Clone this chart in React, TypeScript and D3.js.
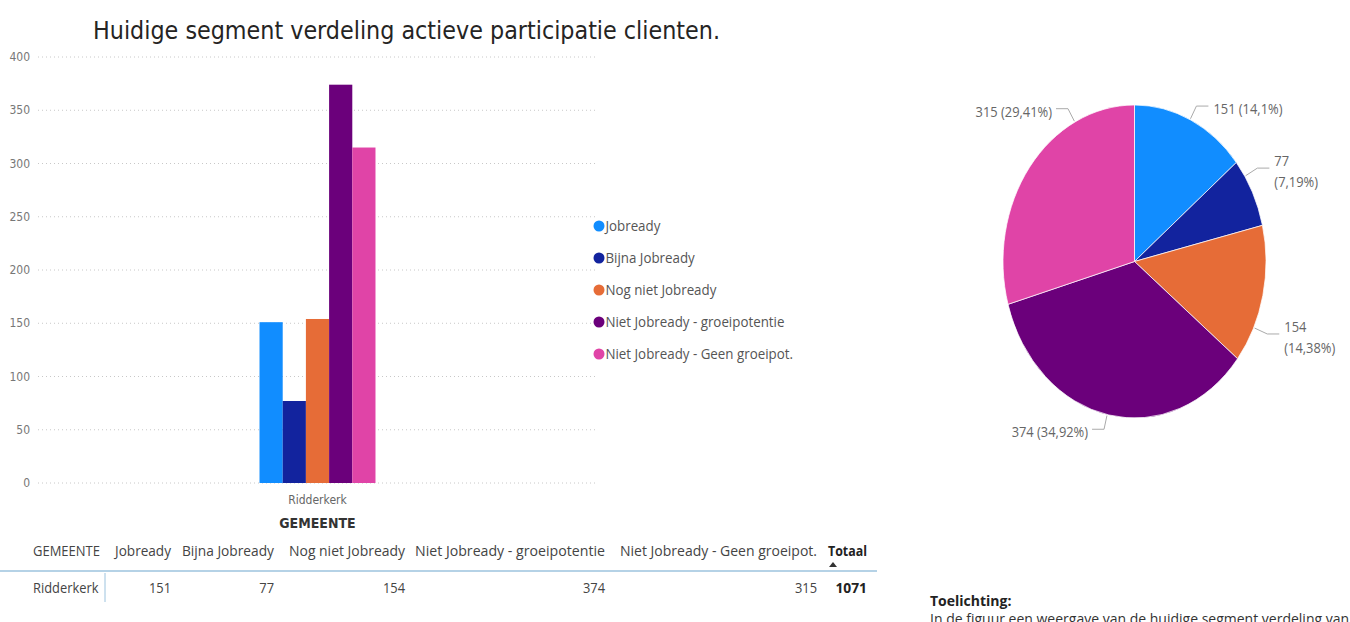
import React from "react";
import * as d3 from "d3";

const categories = ["Ridderkerk"];
const segments = [
  "Jobready",
  "Bijna Jobready",
  "Nog niet Jobready",
  "Niet Jobready - groeipotentie",
  "Niet Jobready - Geen groeipot.",
];
const values = [151, 77, 154, 374, 315];
const colors = ["#118DFF", "#12239E", "#E66C37", "#6B007B", "#E044A7"];
const yTicks = [0, 50, 100, 150, 200, 250, 300, 350, 400];
const title = "Huidige segment verdeling actieve participatie clienten.";
const axisTitle = "GEMEENTE";
const totalLabel = "Totaal";
const noteTitle = "Toelichting:";
const noteText = "In de figuur een weergave van de huidige segment verdeling van";

// layout constants
const W = 1350;
const H = 622;
const PLOT = { left: 38, right: 597, top: 57, bottom: 483 };
const PIE = { cx: 1134.5, cy: 261.5, rx: 131.5, ry: 156.5 };
const LABEL_ANGLE_DEG = [25, 57, 115, 192, 333];
const TABLE = { x: 33, headerY: 551, lineY: 571, rowY: 588, sepX: 105 };
// column [left, right] extents of header texts
const COLS: [number, number][] = [
  [33, 100],
  [115, 171],
  [182, 274],
  [289, 405],
  [415, 605],
  [620, 817],
  [828, 867],
];

const SANS = "'Open Sans', 'Noto Sans', sans-serif";
const DIN = "'DejaVu Sans Condensed', 'Roboto', sans-serif";

function fmtPct(v: number, total: number) {
  const p = parseFloat(((v / total) * 100).toFixed(2));
  return String(p).replace(".", ",") + "%";
}

export default function App() {
  const y = d3.scaleLinear().domain([0, 400]).range([PLOT.bottom, PLOT.top]);
  const x0 = d3
    .scaleBand<string>()
    .domain(categories)
    .range([PLOT.left, PLOT.right])
    .paddingOuter(1.91)
    .paddingInner(0);
  const x1 = d3
    .scaleBand<string>()
    .domain(segments)
    .range([0, x0.bandwidth()])
    .padding(0);

  const total = d3.sum(values);
  const pieGen = d3
    .pie<number>()
    .sort(null)
    .value((d) => d);
  const arcs = pieGen(values);
  const R = PIE.ry;
  const arcGen = d3.arc<d3.PieArcDatum<number>>().innerRadius(0).outerRadius(R);
  const sx = PIE.rx / PIE.ry;

  const ellipsePt = (a: number, extra: number) => [
    PIE.cx + (PIE.rx + extra) * Math.sin(a),
    PIE.cy - (PIE.ry + extra) * Math.cos(a),
  ];

  const headers = [axisTitle, ...segments, totalLabel];

  return (
    <svg
      width={W}
      height={H}
      style={{ position: "absolute", left: 0, top: 0, background: "#fff" }}
    >
      {/* Title */}
      <text
        x={93}
        y={39}
        fontFamily={DIN}
        fontSize={24}
        fill="#252423"
        textLength={627}
        lengthAdjust="spacingAndGlyphs"
      >
        {title}
      </text>

      {/* Grid + y ticks */}
      {yTicks.map((t) => (
        <g key={t}>
          <line
            x1={PLOT.left}
            x2={PLOT.right}
            y1={y(t)}
            y2={y(t)}
            stroke="#c8c8c8"
            strokeWidth={1}
            strokeDasharray="1,3"
          />
          <text
            x={30}
            y={y(t)}
            dy="0.35em"
            textAnchor="end"
            fontFamily={DIN}
            fontSize={12}
            fill="#777"
          >
            {t}
          </text>
        </g>
      ))}

      {/* Bars */}
      {categories.map((c) => (
        <g key={c} transform={`translate(${x0(c)},0)`}>
          {segments.map((s, i) => (
            <rect
              key={s}
              x={x1(s)}
              y={y(values[i])}
              width={x1.bandwidth()}
              height={y(0) - y(values[i])}
              fill={colors[i]}
            />
          ))}
          <text
            x={x0.bandwidth() / 2}
            y={500}
            dy="0.35em"
            textAnchor="middle"
            fontFamily={DIN}
            fontSize={12}
            fill="#666"
          >
            {c}
          </text>
        </g>
      ))}
      <text
        x={(x0(categories[0]) as number) + x0.bandwidth() / 2}
        y={523}
        dy="0.35em"
        textAnchor="middle"
        fontFamily={DIN}
        fontSize={14}
        fontWeight="bold"
        fill="#333"
      >
        {axisTitle}
      </text>

      {/* Legend */}
      {segments.map((s, i) => (
        <g key={s} transform={`translate(599,${226 + i * 32})`}>
          <circle r={5.5} fill={colors[i]} />
          <text
            x={7}
            dy="0.35em"
            fontFamily={SANS}
            fontSize={14.5}
            fill="#555"
            transform="scale(0.92,1)"
          >
            {s}
          </text>
        </g>
      ))}

      {/* Pie */}
      <g transform={`translate(${PIE.cx},${PIE.cy}) scale(${sx},1)`}>
        {arcs.map((a, i) => (
          <path
            key={i}
            d={arcGen(a) as string}
            fill={colors[i]}
            stroke="#fff"
            strokeWidth={0.8}
          />
        ))}
      </g>
      {arcs.map((a, i) => {
        const ang = (LABEL_ANGLE_DEG[i] * Math.PI) / 180;
        const right = Math.sin(ang) >= 0;
        const p0 = ellipsePt(ang, 1);
        const p1 = ellipsePt(ang, 15);
        const p2 = [p1[0] + (right ? 12 : -12), p1[1]];
        const tx = p2[0] + (right ? 5 : -4);
        const label = `${values[i]} (${fmtPct(values[i], total)})`;
        const wrap = right && tx + label.length * 6.6 > W - 20;
        const lines = wrap
          ? [String(values[i]), `(${fmtPct(values[i], total)})`]
          : [label];
        return (
          <g key={i}>
            <polyline
              points={[p0, p1, p2].map((p) => p.join(",")).join(" ")}
              fill="none"
              stroke="#aaa"
              strokeWidth={1}
            />
            {lines.map((ln, j) => (
              <text
                key={j}
                transform={`translate(${tx},${p2[1] + (wrap ? -7 + j * 21 : 3)}) scale(0.92,1)`}
                dy="0.35em"
                textAnchor={right ? "start" : "end"}
                fontFamily={SANS}
                fontSize={14}
                fill="#666"
              >
                {ln}
              </text>
            ))}
          </g>
        );
      })}

      {/* Table */}
      <g fontFamily={SANS} fontSize={14} fill="#333">
        {headers.map((h, i) => (
          <text
            key={h}
            x={COLS[i][0]}
            y={TABLE.headerY}
            dy="0.35em"
            textLength={COLS[i][1] - COLS[i][0]}
            lengthAdjust="spacingAndGlyphs"
            fontWeight={i === headers.length - 1 ? "bold" : "normal"}
            fill={i === headers.length - 1 ? "#222" : "#444"}
          >
            {h}
          </text>
        ))}
        <path
          d={`M${COLS[6][0] + 1},${TABLE.headerY + 16} l4,-5 l4,5 z`}
          fill="#333"
        />
        <line
          x1={0}
          x2={COLS[6][1] + 10}
          y1={TABLE.lineY}
          y2={TABLE.lineY}
          stroke="#9cc3de"
          strokeWidth={1.5}
        />
        <line
          x1={TABLE.sepX}
          x2={TABLE.sepX}
          y1={TABLE.lineY + 2}
          y2={TABLE.rowY + 14}
          stroke="#9cc3de"
          strokeWidth={1}
        />
        {categories.map((c) => (
          <g key={c}>
            <text
              transform={`translate(${TABLE.x},${TABLE.rowY}) scale(0.92,1)`}
              dy="0.35em"
              fill="#444"
            >
              {c}
            </text>
            {values.map((v, i) => (
              <text
                key={i}
                transform={`translate(${COLS[i + 1][1]},${TABLE.rowY}) scale(0.92,1)`}
                dy="0.35em"
                textAnchor="end"
                fill="#444"
              >
                {v}
              </text>
            ))}
            <text
              transform={`translate(${COLS[6][1]},${TABLE.rowY}) scale(0.92,1)`}
              dy="0.35em"
              textAnchor="end"
              fontWeight="bold"
              fontSize={15}
              fill="#222"
            >
              {total}
            </text>
          </g>
        ))}
      </g>

      {/* Note */}
      <text
        x={930}
        y={601}
        dy="0.35em"
        fontFamily={SANS}
        fontSize={14}
        fontWeight="bold"
        fill="#222"
      >
        {noteTitle}
      </text>
      <text
        x={930}
        y={619}
        dy="0.35em"
        fontFamily={SANS}
        fontSize={14}
        fill="#333"
      >
        {noteText}
      </text>
    </svg>
  );
}
